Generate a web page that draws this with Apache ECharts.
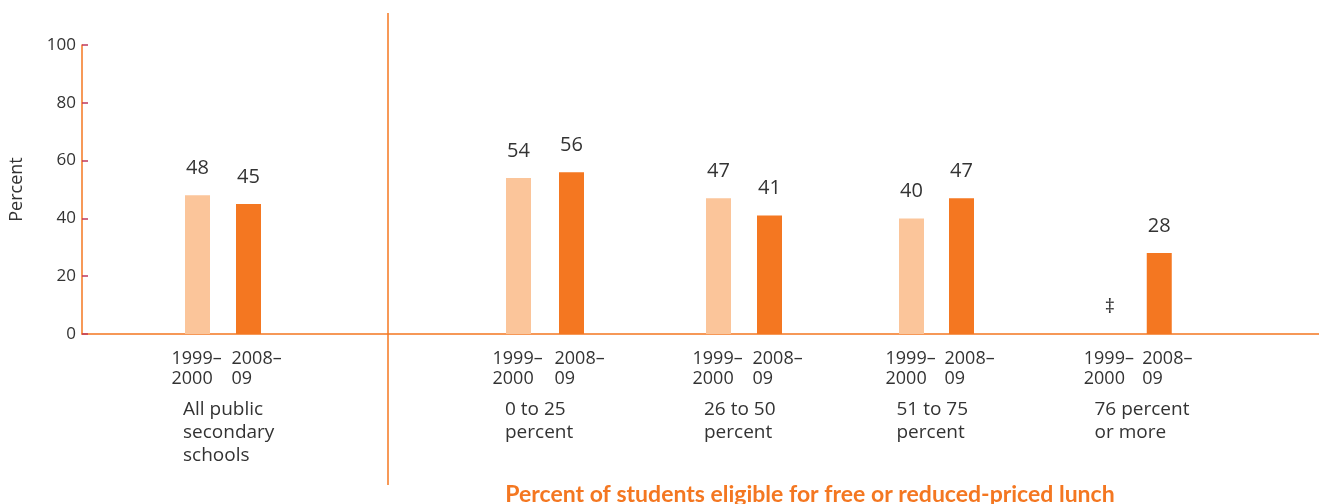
<!DOCTYPE html>
<html>
<head>
<meta charset="utf-8">
<script src="https://cdn.jsdelivr.net/npm/echarts@6/dist/echarts.min.js"></script>
<style>
  html, body { margin: 0; padding: 0; background: #fff; }
  #chart { width: 1319px; height: 504px; }
</style>
</head>
<body>
<div id="chart"></div>
<script>
  // 数据
  const groups = ['All public\nsecondary\nschools', '0 to 25\npercent', '26 to 50\npercent', '51 to 75\npercent', '76 percent\nor more'];
  const years = ['1999–\n2000', '2008–\n09'];
  const v1999 = [48, 54, 47, 40, null]; // null = 不满足报告标准 (‡)
  const v2008 = [45, 56, 41, 47, 28];
  const yTicks = [0, 20, 40, 60, 80, 100];

  // 布局：每组一个小坐标系
  const groupLeft = [172, 492, 693, 886.5, 1085];
  const groupWidth = [102, 106, 102, 100, 99];

  const orange = '#f47721';
  const light = '#fbc59a';
  const textColor = '#333';
  const font = '"Open Sans", "Noto Sans", sans-serif';

  const chart = echarts.init(document.getElementById('chart'));

  const grids = [{ left: 81, right: 0, top: 45, bottom: 170 }];
  const xAxes = [{
    gridIndex: 0, type: 'category', data: [''],
    axisLine: { lineStyle: { color: orange, width: 1.5 } },
    axisTick: { show: false }, axisLabel: { show: false }
  }];
  const yAxes = [{
    gridIndex: 0, type: 'value',
    min: yTicks[0], max: yTicks[yTicks.length - 1], interval: yTicks[1] - yTicks[0],
    name: 'Percent', nameLocation: 'middle', nameGap: 56,
    nameTextStyle: { color: textColor, fontSize: 18, fontFamily: font },
    axisLine: { show: true, lineStyle: { color: orange, width: 1.5 } },
    axisTick: { show: true, inside: true, length: 6, lineStyle: { color: '#c0395c', width: 1.5 } },
    axisLabel: { color: textColor, fontSize: 17, fontFamily: font, margin: 6 },
    splitLine: { show: false }
  }];
  const series = [];

  groups.forEach((g, i) => {
    const gi = i + 1;
    grids.push({ left: groupLeft[i], width: groupWidth[i], top: 45, bottom: 170 });
    xAxes.push({
      gridIndex: gi, type: 'category', data: years,
      axisLine: { show: false }, axisTick: { show: false },
      axisLabel: {
        interval: 0, margin: 15, hideOverlap: false,
        formatter: (val, idx) => val.split('\n').map(s => '{' + (idx === 0 ? 'a' : 'b') + '|' + s + '}').join('\n'),
        rich: {
          a: { width: 52, align: 'left', color: textColor, fontSize: 18, lineHeight: 20, fontFamily: font },
          b: { width: 34, align: 'left', color: textColor, fontSize: 18, lineHeight: 20, fontFamily: font }
        }
      },
      name: g.split('\n').map(s => '{n|' + s + '}').join('\n'),
      nameLocation: 'middle', nameGap: 64,
      nameTextStyle: {
        rich: { n: { width: 80, align: 'left', color: textColor, fontSize: 19, lineHeight: 23, fontFamily: font } }
      }
    });
    yAxes.push({ gridIndex: gi, type: 'value', min: 0, max: 100, show: false });
    series.push({
      type: 'bar', xAxisIndex: gi, yAxisIndex: gi, barWidth: 25,
      data: [v1999[i], v2008[i]].map((v, k) => v === null
        ? { value: 0, label: { formatter: '‡' } }
        : { value: v, itemStyle: { color: k === 0 ? light : orange } }),
      label: {
        show: true, position: 'top', distance: 17,
        color: textColor, fontSize: 20, fontFamily: font
      },
      silent: true
    });
  });

  chart.setOption({
    animation: false,
    title: {
      text: 'Percent of students eligible for free or reduced-priced lunch',
      left: 805, top: 478, textAlign: 'center',
      textStyle: { color: orange, fontSize: 23, fontWeight: 'bold', fontFamily: 'Lato, "Open Sans", sans-serif' }
    },
    grid: grids,
    xAxis: xAxes,
    yAxis: yAxes,
    series: series,
    graphic: [{
      type: 'line', silent: true,
      shape: { x1: 388, y1: 13, x2: 388, y2: 485 },
      style: { stroke: orange, lineWidth: 1.5 }
    }]
  });
</script>
</body>
</html>
